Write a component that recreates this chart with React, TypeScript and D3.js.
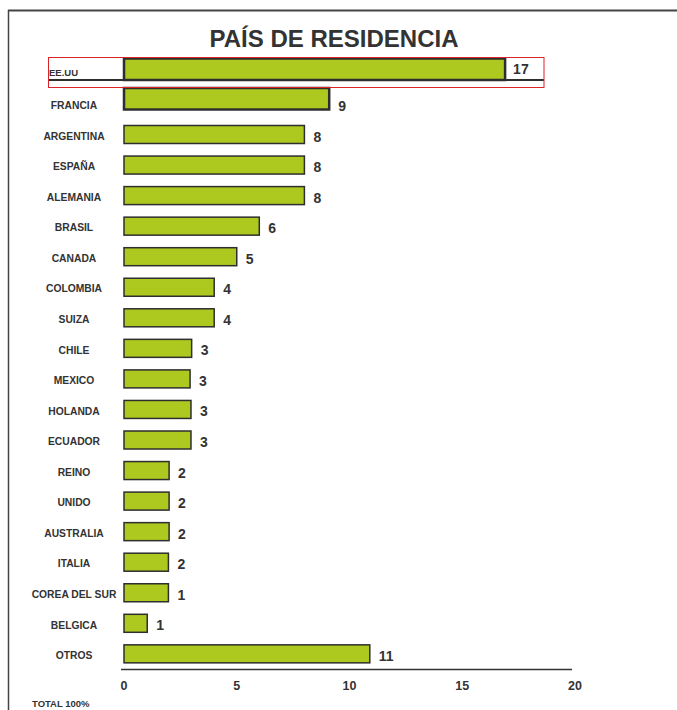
import React from "react";
import * as d3 from "d3";

const categories = [
  "EE.UU", "FRANCIA", "ARGENTINA", "ESPAÑA", "ALEMANIA", "BRASIL", "CANADA",
  "COLOMBIA", "SUIZA", "CHILE", "MEXICO", "HOLANDA", "ECUADOR", "REINO",
  "UNIDO", "AUSTRALIA", "ITALIA", "COREA DEL SUR", "BELGICA", "OTROS",
];
// bar lengths as drawn
const barValues = [
  16.9, 9.1, 8.0, 8.0, 8.0, 6.0, 5.0, 4.0, 4.0, 3.0, 2.93, 2.97, 2.97, 2.0,
  2.0, 2.0, 1.97, 1.97, 1.03, 10.9,
];
// printed value labels
const valueLabels = [17, 9, 8, 8, 8, 6, 5, 4, 4, 3, 3, 3, 3, 2, 2, 2, 2, 1, 1, 11];
const axisTicks = [0, 5, 10, 15, 20];
const title = "PAÍS DE RESIDENCIA";
const footnote = "TOTAL 100%";

const W = 677;
const H = 710;
const FONT = "'Liberation Sans', Arial, sans-serif";
const TEXT = "#333333";
const FILL = "#adc91f";
const STROKE = "#2e2e2e";

export default function App() {
  const x = d3.scaleLinear().domain([0, 20]).range([124, 575]);
  const y = d3
    .scalePoint<string>()
    .domain(categories)
    .range([73.4, 73.4 + 19 * 30.55]);
  const barH = 18;

  return (
    <svg
      width={W}
      height={H}
      style={{ position: "absolute", left: 0, top: 0, background: "#fff" }}
      fontFamily={FONT}
    >
      {/* frame */}
      <line x1={8} y1={10.5} x2={W} y2={10.5} stroke="#444" strokeWidth={2} />
      <line x1={8.5} y1={10} x2={8.5} y2={H} stroke="#444" strokeWidth={1.5} />

      <text
        x={334}
        y={47}
        textAnchor="middle"
        fontSize={24}
        fontWeight="bold"
        fill={TEXT}
      >
        {title}
      </text>

      {categories.map((c, i) => {
        const cy = y(c)!;
        const isFirst = i === 0;
        const isSecond = i === 1;
        let top = cy - barH / 2;
        let h = barH;
        let sw = 1.5;
        let labelY = cy + 1.5;
        if (isFirst) {
          top = 58.5;
          h = 21.5;
          sw = 2.5;
          labelY = 72.5;
        } else if (isSecond) {
          top = 88;
          h = 21.5;
          sw = 2.5;
        }
        const xEnd = x(barValues[i]);
        return (
          <g key={c}>
            <rect
              x={x(0)}
              y={top}
              width={xEnd - x(0)}
              height={h}
              fill={FILL}
              stroke={STROKE}
              strokeWidth={sw}
            />
            <text
              x={isFirst ? 63.5 : 74}
              y={labelY}
              dy="0.36em"
              textAnchor="middle"
              fontSize={isFirst ? 9.5 : 10.3}
              fontWeight="bold"
              fill={TEXT}
            >
              {c}
            </text>
            <text
              x={xEnd + (isFirst ? 8 : 9)}
              y={isFirst ? 69 : cy + 2}
              dy="0.36em"
              fontSize={14}
              fontWeight="bold"
              fill={TEXT}
            >
              {valueLabels[i]}
            </text>
          </g>
        );
      })}

      {/* highlight box around first row */}
      <line x1={48} y1={80} x2={544} y2={80} stroke={STROKE} strokeWidth={2} />
      <line x1={x(0)} y1={57.5} x2={x(0)} y2={80} stroke={STROKE} strokeWidth={2} />
      <rect x={48.5} y={57.5} width={495.5} height={30} fill="none" stroke="#d9252a" strokeWidth={1} />

      {/* axis */}
      <line x1={121} y1={669.5} x2={x(20) - 3} y2={669.5} stroke="#333" strokeWidth={1.5} />
      {axisTicks.map((t) => (
        <text
          key={t}
          x={x(t)}
          y={685}
          dy="0.36em"
          textAnchor="middle"
          fontSize={12.5}
          fontWeight="bold"
          fill={TEXT}
        >
          {t}
        </text>
      ))}

      <text x={32} y={703.5} dy="0.36em" fontSize={9.5} fontWeight="bold" fill={TEXT}>
        {footnote}
      </text>
    </svg>
  );
}
